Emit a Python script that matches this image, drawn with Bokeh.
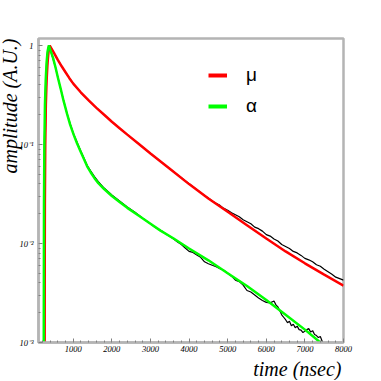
import numpy as np
from bokeh.plotting import figure
from bokeh.models import FixedTicker, Legend, LegendItem, Range1d, Title
from bokeh.embed import file_html
from bokeh.resources import INLINE

# ---------------- data (time in nsec, amplitude given as log10 of A.U.) ----------------
mu_fit_t = [258, 265, 275, 290, 310, 335, 360, 391, 500, 600, 700, 800, 900, 1000, 1200, 1400,
            1600, 1800, 2000, 2200, 2400, 2700, 3000, 3500, 4000, 4500, 5000, 5500, 6000, 6500,
            7000, 7500, 8000]
mu_fit_log10 = [-3.0, -1.6, -1.0, -0.6, -0.35, -0.17, -0.06, 0.0, -0.075, -0.145, -0.21, -0.27,
                -0.33, -0.385, -0.475, -0.555, -0.63, -0.70, -0.77, -0.835, -0.90, -0.995, -1.09,
                -1.245, -1.40, -1.545, -1.68, -1.815, -1.95, -2.08, -2.20, -2.315, -2.425]

alpha_fit_t = [236, 242, 252, 267, 287, 310, 335, 366, 420, 480, 540, 600, 670, 750, 840, 920, 1010,
               1100, 1190, 1280, 1360, 1450, 1550, 1650, 1800, 2000, 2200, 2400, 2700, 3000, 3260,
               3600, 4000, 4500, 5000, 5500, 6000, 6500, 7000, 7400, 7600]
alpha_fit_log10 = [-3.0, -1.6, -1.0, -0.6, -0.35, -0.17, -0.06, 0.0, -0.06, -0.13, -0.22, -0.32,
                   -0.43, -0.56, -0.69, -0.80, -0.90, -0.99, -1.07, -1.15, -1.22, -1.28, -1.34, -1.39,
                   -1.45, -1.52, -1.58, -1.64, -1.72, -1.80, -1.87, -1.95, -2.05, -2.17, -2.30, -2.43,
                   -2.57, -2.72, -2.87, -3.00, -3.06]

mu_data_t = [260, 265, 275, 290, 310, 335, 360, 391, 500, 600, 700, 800, 900, 1000, 1200, 1400,
             1600, 1800, 2000, 2200, 2400, 2700, 3000, 3500, 4000, 4400, 4500, 4600, 4700, 4800,
             4900, 5000, 5100, 5200, 5300, 5400, 5500, 5600, 5700, 5800, 5900, 6000, 6100, 6200,
             6300, 6400, 6500, 6600, 6700, 6800, 6900, 7000, 7100, 7200, 7300, 7400, 7500, 7600,
             7700, 7800, 7900, 8000]
mu_data_log10 = [-3.0, -1.6, -1.0, -0.6, -0.35, -0.17, -0.06, 0.0, -0.075, -0.145, -0.21, -0.27,
                 -0.33, -0.385, -0.475, -0.555, -0.63, -0.70, -0.77, -0.835, -0.90, -0.995, -1.09,
                 -1.245, -1.395, -1.515, -1.54, -1.57, -1.595, -1.615, -1.645, -1.665, -1.69,
                 -1.71, -1.73, -1.76, -1.78, -1.80, -1.835, -1.85, -1.875, -1.91, -1.925, -1.955,
                 -1.975, -2.01, -2.03, -2.05, -2.08, -2.095, -2.12, -2.15, -2.165, -2.185, -2.215,
                 -2.23, -2.26, -2.285, -2.31, -2.34, -2.355, -2.37]

alpha_data_t = [238, 242, 252, 267, 287, 310, 335, 366, 420, 540, 670, 840, 1010, 1190, 1360, 1450,
                1550, 1650, 1800, 2000, 2200, 2400, 2600, 2800, 3000, 3100, 3200, 3300, 3400, 3500,
                3600, 3700, 3800, 3900, 4000, 4100, 4200, 4300, 4400, 4500, 4600, 4700, 4800, 4900,
                5000, 5100, 5200, 5300, 5400, 5500, 5600, 5700, 5800, 5900, 6000, 6100, 6200, 6250,
                6300, 6350, 6400, 6450, 6500, 6550, 6600, 6650, 6700, 6750, 6800, 6850, 6900, 6950,
                7000, 7050, 7100, 7150, 7200, 7250, 7300, 7350, 7400, 7450, 7500, 7600]
alpha_data_log10 = [-3.0, -1.6, -1.0, -0.6, -0.35, -0.17, -0.06, 0.0, -0.06, -0.22, -0.43, -0.69,
                    -0.895, -1.06, -1.21, -1.265, -1.325, -1.375, -1.44, -1.51, -1.57, -1.63, -1.685,
                    -1.745, -1.80, -1.83, -1.855, -1.875, -1.905, -1.93, -1.955, -1.985, -2.01,
                    -2.045, -2.08, -2.09, -2.115, -2.14, -2.185, -2.205, -2.22, -2.235, -2.255,
                    -2.27, -2.30, -2.33, -2.37, -2.385, -2.42, -2.475, -2.49, -2.52, -2.55, -2.575,
                    -2.595, -2.60, -2.58, -2.62, -2.64, -2.68, -2.72, -2.745, -2.77, -2.80, -2.785,
                    -2.83, -2.815, -2.85, -2.835, -2.87, -2.875, -2.90, -2.885, -2.87, -2.86, -2.895,
                    -2.88, -2.92, -2.93, -2.95, -2.94, -2.99, -3.05, -3.15]

x_major = [1000, 2000, 3000, 4000, 5000, 6000, 7000, 8000]
x_minor = [v for v in range(200, 8000, 200) if v % 1000 != 0]
y_major = [0.001, 0.01, 0.1, 1.0]
y_minor = [m * d for d in (0.001, 0.01, 0.1) for m in range(2, 10)]
y_labels = {0.001: "10\u207b\u00b3", 0.01: "10\u207b\u00b2", 0.1: "10\u207b\u00b9", 1.0: "1"}
legend_labels = ["\u03bc", "\u03b1"]
x_title = "time (nsec)"
y_title = "amplitude (A.U.)"

# ---------------- figure ----------------
p = figure(frame_width=305, frame_height=304, y_axis_type="log",
           x_range=Range1d(100, 8000), y_range=Range1d(0.001, 1.177),
           output_backend="svg", toolbar_location=None,
           min_border_left=0, min_border_right=30, min_border_top=38, min_border_bottom=20)
p.background_fill_color = "white"
p.border_fill_color = "white"
p.xgrid.visible = False
p.ygrid.visible = False
p.outline_line_color = "#b4b4b4"
p.outline_line_width = 2.5

serif = "Liberation Serif"
for ax in (p.xaxis[0], p.yaxis[0]):
    ax.axis_line_color = "#b4b4b4"
    ax.axis_line_width = 2.5
    ax.major_tick_in = 4
    ax.major_tick_out = 0
    ax.minor_tick_in = 2
    ax.minor_tick_out = 0
    ax.major_tick_line_color = "#808080"
    ax.minor_tick_line_color = "#808080"
    ax.major_label_text_font = serif
    ax.major_label_text_font_style = "italic"
    ax.major_label_text_font_size = "8.5px"
    ax.major_label_text_color = "black"

p.xaxis[0].ticker = FixedTicker(ticks=x_major, minor_ticks=x_minor)
p.xaxis[0].major_label_standoff = 3
p.yaxis[0].ticker = FixedTicker(ticks=y_major, minor_ticks=y_minor)
p.yaxis[0].major_label_overrides = y_labels
p.yaxis[0].major_label_standoff = 5

# data traces (black) under the fits
p.line(mu_data_t, 10 ** np.array(mu_data_log10), line_color="black", line_width=1.2)
p.line(alpha_data_t, 10 ** np.array(alpha_data_log10), line_color="black", line_width=1.2)
# fits
p.line(mu_fit_t, 10 ** np.array(mu_fit_log10), line_color="#ff0000", line_width=2.5)
p.line(alpha_fit_t, 10 ** np.array(alpha_fit_log10), line_color="#00ff00", line_width=2.5)

# legend (thicker sample lines, renderers that draw nothing in the frame)
leg_mu = p.line([np.nan], [np.nan], line_color="#ff0000", line_width=4)
leg_al = p.line([np.nan], [np.nan], line_color="#00ff00", line_width=4)
legend = Legend(items=[LegendItem(label=legend_labels[0], renderers=[leg_mu]),
                       LegendItem(label=legend_labels[1], renderers=[leg_al])],
                location=(170, 225), orientation="vertical",
                glyph_width=19, glyph_height=20, label_height=20, label_standoff=19,
                spacing=9, padding=0, margin=0,
                border_line_alpha=0, background_fill_alpha=0,
                label_text_font="Liberation Sans", label_text_font_size="19px",
                label_text_color="black")
p.add_layout(legend, "center")

# axis titles (right-aligned, ROOT style)
p.add_layout(Title(text=y_title, align="right", standoff=-8, offset=0,
                   text_font=serif, text_font_style="italic", text_font_size="20px",
                   text_color="black"), "left")
p.add_layout(Title(text=x_title, align="right", standoff=2, offset=2,
                   text_font=serif, text_font_style="italic", text_font_size="20px",
                   text_color="black"), "below")

open("out.html", "w").write(file_html(p, INLINE))
